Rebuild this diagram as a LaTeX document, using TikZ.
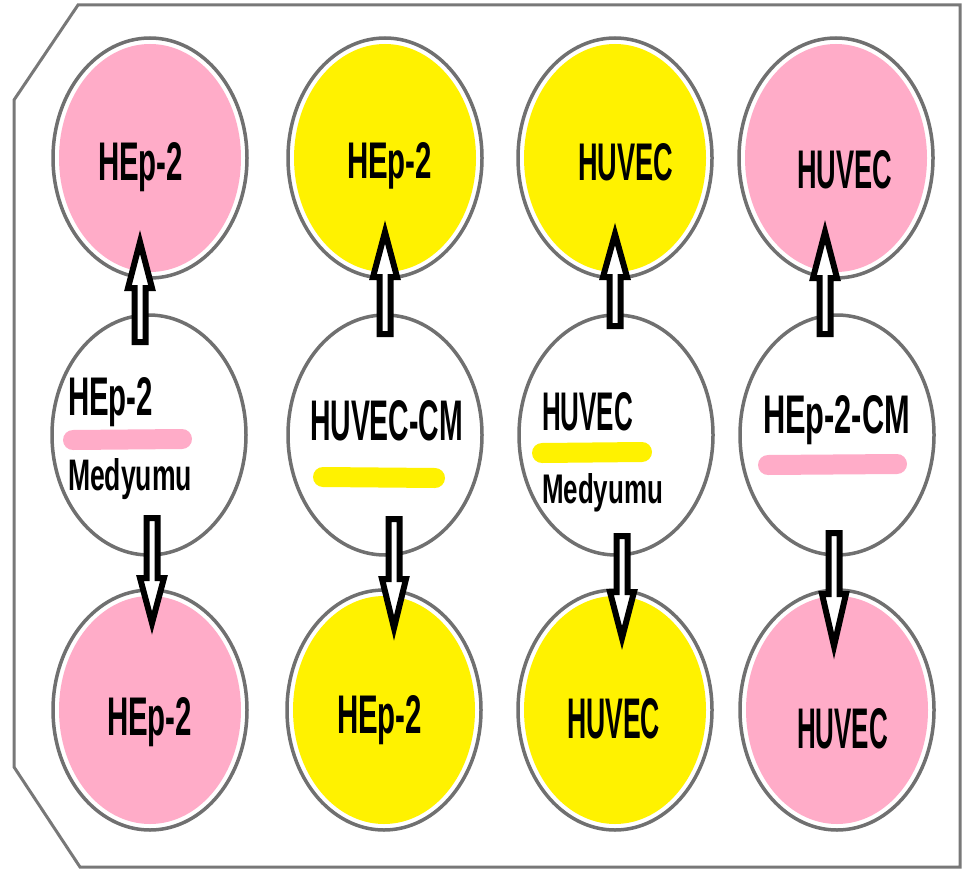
\documentclass[tikz,border=0pt]{standalone}
\usepackage{fontspec}
\setmainfont{Liberation Sans}
\usetikzlibrary{shapes.geometric,calc}

\definecolor{wellpink}{RGB}{255,172,200}
\definecolor{wellyellow}{RGB}{255,242,0}
\definecolor{rimgray}{RGB}{112,112,112}
\definecolor{plategray}{RGB}{120,120,120}

% label text squeezed to a given width and cap height (in pt)
\newcommand\fitlabel[3]{\resizebox{#1pt}{#2pt}{\bfseries #3}}
% hollow block arrow from tail coordinate to tip coordinate; #3 = head length (signed)
\newcommand\blockarrow[3]{%
  \draw[hollowarrow] ($(#1)+(-5.5,0)$) -- ($(#2)+(-5.5,#3)$) -- ($(#2)+(-12,#3)$) -- (#2)
    -- ($(#2)+(12,#3)$) -- ($(#2)+(5.5,#3)$) -- ($(#1)+(5.5,0)$) -- cycle;}

\begin{document}
\begin{tikzpicture}[x=1pt, y=-1pt,
  plate/.style={draw=plategray, line width=3pt, line join=miter},
  well/.style={ellipse, draw=rimgray, line width=3.5pt, fill=white,
    minimum width=194pt, minimum height=240pt, inner sep=0pt},
  pinkwell/.style={well, path picture={\fill[wellpink] (path picture bounding box.center)
    ellipse [x radius=91pt, y radius=114pt];}},
  yellowwell/.style={well, path picture={\fill[wellyellow] (path picture bounding box.center)
    ellipse [x radius=91pt, y radius=114pt];}},
  emptywell/.style={well},
  txt/.style={inner sep=0pt, outer sep=0pt, anchor=base west, text=black},
  pinkbar/.style={draw=wellpink, line width=20pt, line cap=round},
  yellowbar/.style={draw=wellyellow, line width=20pt, line cap=round},
  hollowarrow/.style={draw=black, fill=white, line width=6pt, line join=miter}]

\useasboundingbox (0,0) rectangle (963,872);

% plate outline with the two chamfered left corners
\draw[plate] (78,5) -- (960,5) -- (960,867) -- (80,867) -- (14,767) -- (14,100) -- cycle;

% top row of wells
\node[pinkwell]   (t1) at (150,158) {};
\node[yellowwell] (t2) at (385,158) {};
\node[yellowwell] (t3) at (615,158) {};
\node[pinkwell]   (t4) at (836,158) {};
% middle row: conditioned media
\node[emptywell]  (m1) at (149,435) {};
\node[emptywell]  (m2) at (385,435) {};
\node[emptywell]  (m3) at (616,435) {};
\node[emptywell]  (m4) at (837,435) {};
% bottom row of wells
\node[pinkwell]   (b1) at (150,710) {};
\node[yellowwell] (b2) at (384,710) {};
\node[yellowwell] (b3) at (615,710) {};
\node[pinkwell]   (b4) at (837,710) {};

% highlighter strokes in the middle wells
\draw[pinkbar]   (73,440) -- (182,439);
\draw[yellowbar] (323,477) -- (435,478);
\draw[yellowbar] (542,453) -- (642,452);
\draw[pinkbar]   (768,465) -- (897,464);

% labels
\node[txt] (t1l) at (98,180)  {\fitlabel{85}{38}{HEp-2}};
\node[txt] (t2l) at (347,178) {\fitlabel{85}{36}{HEp-2}};
\node[txt] (t3l) at (578,180) {\fitlabel{95}{37}{HUVEC}};
\node[txt] (t4l) at (797,188) {\fitlabel{95}{38}{HUVEC}};

\node[txt] (m1a) at (68,415)  {\fitlabel{85}{38}{HEp-2}};
\node[txt] (m1b) at (68,490)  {\fitlabel{124}{32}{Medyumu}};
\node[txt] (m2a) at (310,440) {\fitlabel{153}{40}{HUVEC-CM}};
\node[txt] (m3a) at (542,430) {\fitlabel{91}{38}{HUVEC}};
\node[txt] (m3b) at (542,503) {\fitlabel{121}{30}{Medyumu}};
\node[txt] (m4a) at (763,433) {\fitlabel{147}{38}{HEp-2-CM}};

\node[txt] (b1l) at (107,735) {\fitlabel{85}{38}{HEp-2}};
\node[txt] (b2l) at (337,733) {\fitlabel{85}{38}{HEp-2}};
\node[txt] (b3l) at (567,738) {\fitlabel{93}{40}{HUVEC}};
\node[txt] (b4l) at (797,748) {\fitlabel{91}{40}{HUVEC}};

% arrow end points
\coordinate (u1s) at (140,342); \coordinate (u1e) at (140,242);
\coordinate (u2s) at (385,334); \coordinate (u2e) at (385,232);
\coordinate (u3s) at (615,326); \coordinate (u3e) at (615,234);
\coordinate (u4s) at (825,334); \coordinate (u4e) at (825,232);
\coordinate (d1s) at (152,518); \coordinate (d1e) at (152,623);
\coordinate (d2s) at (394,519); \coordinate (d2e) at (394,628);
\coordinate (d3s) at (622,536); \coordinate (d3e) at (622,638);
\coordinate (d4s) at (834,533); \coordinate (d4e) at (834,646);

% transfer arrows: medium up to the top wells, down to the bottom wells
\blockarrow{u1s}{u1e}{46}
\blockarrow{u2s}{u2e}{45}
\blockarrow{u3s}{u3e}{43}
\blockarrow{u4s}{u4e}{46}
\blockarrow{d1s}{d1e}{-45}
\blockarrow{d2s}{d2e}{-49}
\blockarrow{d3s}{d3e}{-46}
\blockarrow{d4s}{d4e}{-52}

\end{tikzpicture}
\end{document}
